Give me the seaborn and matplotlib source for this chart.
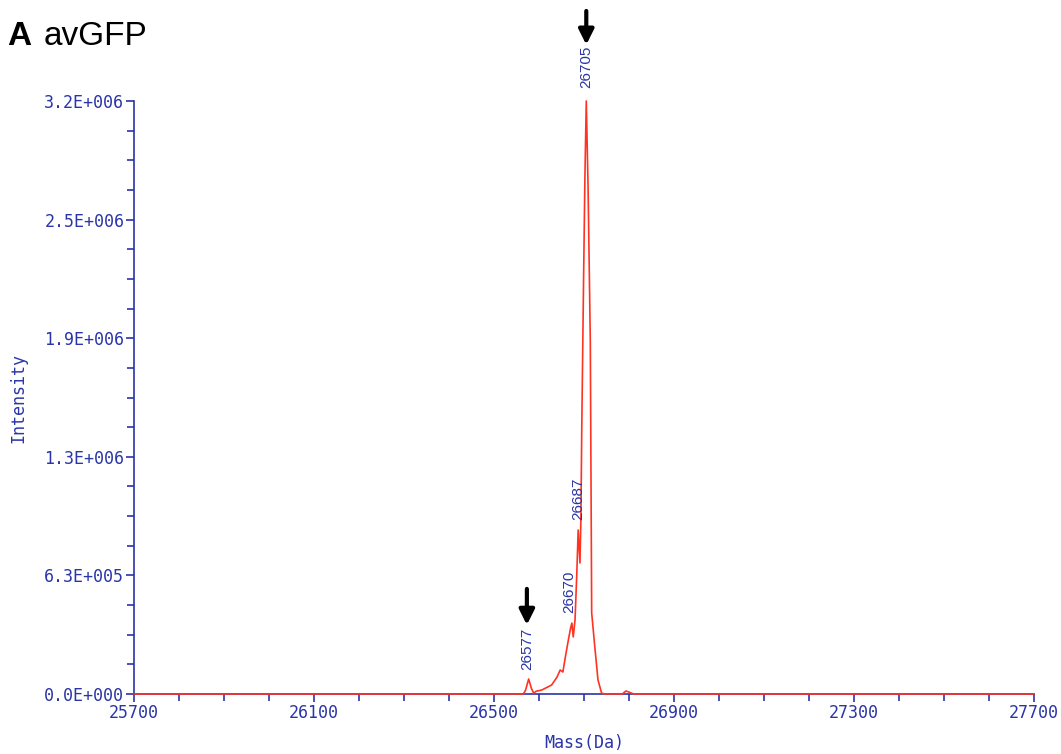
import numpy as np
import pandas as pd
import matplotlib
matplotlib.use("Agg")
import matplotlib.pyplot as plt
from matplotlib.ticker import FixedLocator, MultipleLocator, FuncFormatter
import seaborn as sns

# ── Data ───────────────────────────────────────────────────────────────────────
mass = [25700, 26540, 26565, 26570, 26577, 26583, 26588, 26594, 26600, 26606,
        26615, 26628, 26640, 26647, 26653, 26658, 26664, 26670, 26673, 26676,
        26680, 26684, 26687, 26691, 26693, 26695, 26699, 26702, 26705, 26709,
        26714, 26717, 26724, 26731, 26739, 26745, 26785, 26793, 26798, 26810,
        27700]
intensity = [0, 0, 0, 20e3, 80e3, 30e3, 5e3, 15e3, 18e3, 21e3,
             32e3, 48e3, 90e3, 128e3, 117e3, 190e3, 272e3, 350e3, 378e3, 304e3,
             394e3, 645e3, 874e3, 698e3, 927e3, 1.42e6, 2.21e6, 2.76e6, 3.16e6, 2.70e6,
             1.87e6, 432e3, 250e3, 75e3, 5e3, 0, 0, 16e3, 12e3, 0,
             0]

peak_labels = ["26705", "26687", "26670", "26577"]
peak_x = [26705, 26687, 26668, 26574]
peak_y = [3.34e6, 1.04e6, 0.544e6, 0.24e6]

arrow_x = [26705, 26573]
arrow_tip = [3.46e6, 0.368e6]
arrow_tail = [3.64e6, 0.56e6]

y_max = 3.16e6
x_ticks = [25700, 26100, 26500, 26900, 27300, 27700]

df = pd.DataFrame({"Mass": mass, "Intensity": intensity})

# ── Plot ───────────────────────────────────────────────────────────────────────
sns.set_style("white")
blue = "#2a35a8"
red = "#ff3322"
mono = "DejaVu Sans Mono"

fig = plt.figure(figsize=(10.61, 7.54), dpi=100)
ax = fig.add_axes([0.1263, 0.0796, 0.8483, 0.7864])

sns.lineplot(data=df, x="Mass", y="Intensity", ax=ax, color=red, lw=1.2,
             estimator=None, sort=False, clip_on=False, zorder=3)

ax.set_xlim(25700, 27700)
ax.set_ylim(0, y_max)

for s in ["top", "right"]:
    ax.spines[s].set_visible(False)
for s in ["left", "bottom"]:
    ax.spines[s].set_color(blue)
    ax.spines[s].set_linewidth(1.2)

ax.xaxis.set_major_locator(FixedLocator(x_ticks))
ax.xaxis.set_minor_locator(MultipleLocator(100))
ax.yaxis.set_major_locator(FixedLocator(np.linspace(0, y_max, 6)))
ax.yaxis.set_minor_locator(FixedLocator(np.linspace(0, y_max, 21)))


def sci(v, pos):
    m, e = f"{v:.1E}".split("E")
    return f"{m}E{e[0]}{int(e[1:]):03d}"


ax.yaxis.set_major_formatter(FuncFormatter(sci))
ax.tick_params(which="both", direction="out", colors=blue, labelcolor=blue,
               left=True, bottom=True, width=1.2)
ax.tick_params(which="major", length=6, pad=1, labelsize=12)
ax.tick_params(which="minor", length=5)
for lab in ax.get_xticklabels() + ax.get_yticklabels():
    lab.set_family(mono)

ax.set_xlabel("Mass(Da)", family=mono, fontsize=12, color=blue)
ax.set_ylabel("Intensity", family=mono, fontsize=12, color=blue, labelpad=12)
ax.xaxis.set_label_coords(0.5, -0.068)

for lab, x, y in zip(peak_labels, peak_x, peak_y):
    ax.text(x, y, lab, rotation=90, ha="center", va="center", color=blue,
            family="Liberation Sans", fontsize=11, clip_on=False)

for x, tip, tail in zip(arrow_x, arrow_tip, arrow_tail):
    ax.annotate("", xy=(x, tip), xytext=(x, tail), annotation_clip=False,
                arrowprops=dict(arrowstyle="-|>,head_length=0.9,head_width=0.45",
                                color="black", lw=3, shrinkA=0, shrinkB=0))

fig.text(0.007, 0.951, "A", fontsize=24, fontweight="bold", family="Liberation Sans",
         va="center", ha="left", color="black")
fig.text(0.041, 0.951, "avGFP", fontsize=24, family="Liberation Sans",
         va="center", ha="left", color="black")

plt.savefig("out.png", dpi=100)
